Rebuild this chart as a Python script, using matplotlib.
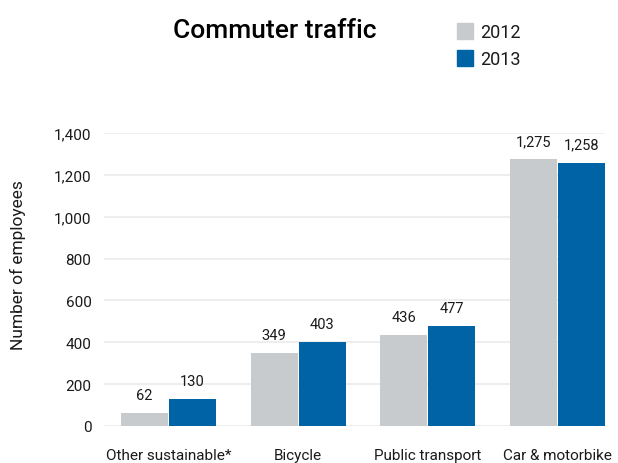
import matplotlib
matplotlib.use("Agg")
import matplotlib.pyplot as plt
import numpy as np
from matplotlib.patches import Patch

plt.rcParams['font.family'] = ['Roboto', 'DejaVu Sans']

categories = ["Other sustainable*", "Bicycle", "Public transport", "Car & motorbike"]
years = ["2012", "2013"]
values_2012 = [62, 349, 436, 1275]
values_2013 = [130, 403, 477, 1258]
yticks = [0, 200, 400, 600, 800, 1000, 1200, 1400]

gray = "#c8cbce"
blue = "#0063a6"
text_col = "#1a1a1a"

fig = plt.figure(figsize=(6.18, 4.64), dpi=100)
W, H = 618, 464
ax = fig.add_axes([104 / W, 1 - 427 / H, (605 - 104) / W, (427 - 134) / H])

x = np.arange(len(categories))
bw = 0.362
b1 = ax.bar(x - bw / 2 - 0.004, values_2012, width=bw, color=gray, zorder=2)
b2 = ax.bar(x + bw / 2 + 0.004, values_2013, width=bw, color=blue, zorder=2)

for bars, vals in ((b1, values_2012), (b2, values_2013)):
    for rect, v in zip(bars, vals):
        ax.annotate(f"{v:,}", (rect.get_x() + rect.get_width() / 2, v),
                    xytext=(0, 8), textcoords="offset points",
                    ha="center", va="bottom", fontsize=10.5, color=text_col,
                    annotation_clip=False)

ax.set_xlim(-0.497, 3.366)
ax.set_ylim(0, 1400)
ax.set_yticks(yticks)
ax.set_yticklabels([f"{t:,}" for t in yticks])
ax.set_xticks(x)
ax.set_xticklabels(categories)
ax.tick_params(axis="both", length=0, labelsize=11, colors=text_col)
ax.tick_params(axis="y", pad=9)
ax.tick_params(axis="x", pad=16)
ax.grid(axis="y", color="#eeeeee", linewidth=1.5, zorder=0)
ax.set_axisbelow(True)
for s in ax.spines.values():
    s.set_visible(False)

fig.text(18 / W, 1 - 265 / H, "Number of employees", rotation=90,
         ha="center", va="center", fontsize=12.5, color=text_col)
fig.text(275 / W, 1 - 31 / H, "Commuter traffic", ha="center", va="center",
         fontsize=19, fontweight="medium", color="#000000")

handles = [Patch(color=gray), Patch(color=blue)]
fig.legend(handles, years, loc="upper left", bbox_to_anchor=(453 / W, 1 - 20 / H),
           frameon=False, fontsize=13, handlelength=0.89, handleheight=1.0,
           handletextpad=0.4, labelspacing=0.5, borderaxespad=0, borderpad=0.2,
           labelcolor=text_col)

fig.savefig("out.png", dpi=100)
